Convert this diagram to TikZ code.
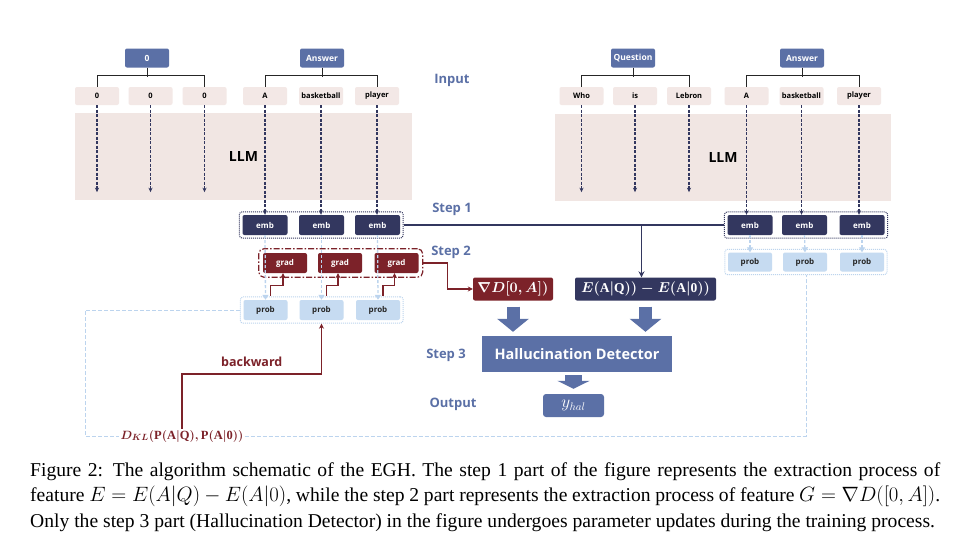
\documentclass[tikz,border=0pt]{standalone}
\usepackage{amsmath}
\usepackage{fontspec}
\setmainfont{Liberation Serif}
\newfontfamily\diagsans{Open Sans}
\usetikzlibrary{arrows.meta, positioning, fit}

\definecolor{hdrblue}{HTML}{5B70A6}
\definecolor{navy}{HTML}{33375F}
\definecolor{wine}{HTML}{7C2229}
\definecolor{tokpink}{HTML}{F3E8E6}
\definecolor{bandpink}{HTML}{F1E6E3}
\definecolor{probblue}{HTML}{C6DBF1}
\definecolor{lineblue}{HTML}{BCD4EE}

\begin{document}
\begin{tikzpicture}[x=1pt, y=-1pt, >=Stealth,
  hdr/.style={fill=hdrblue, text=white, rounded corners=2pt, minimum width=44, minimum height=19, inner sep=1, font=\diagsans\bfseries\fontsize{8.5}{10}\selectfont},
  tok/.style={fill=tokpink, rounded corners=2pt, minimum width=44, minimum height=18, inner sep=1, font=\diagsans\bfseries\fontsize{7.5}{8}\selectfont},
  band/.style={fill=bandpink, minimum height=87, inner sep=0, font=\diagsans\bfseries\fontsize{14}{16}\selectfont},
  emb/.style={fill=navy, text=white, rounded corners=2pt, minimum width=45, minimum height=20, inner sep=1, font=\diagsans\bfseries\fontsize{8}{9}\selectfont},
  gradbox/.style={emb, fill=wine, minimum width=44},
  probbox/.style={emb, fill=probblue, text=black!85, minimum width=44},
  steplbl/.style={text=hdrblue, font=\diagsans\bfseries\fontsize{13}{15}\selectfont},
  bracket/.style={draw=black!85, line width=0.9},
  feed/.style={draw=navy, line width=1.3, dash pattern=on 3pt off 1.5pt, -{Stealth[length=4.5pt,width=4pt]}},
  probline/.style={draw=lineblue, line width=1.3, dash pattern=on 3pt off 2pt, -{Triangle[length=5pt,width=6pt]}},
  mathbox/.style={text=white, rounded corners=2pt, minimum height=23, inner sep=3, font=\boldmath\fontsize{13.5}{15}\selectfont},
  bigarrow/.style={draw=hdrblue, line width=13, -{Triangle[length=13pt,width=31pt]}},
  loopline/.style={draw=lineblue, line width=1, dash pattern=on 4pt off 2pt},
  redline/.style={draw=wine, line width=1.5, -{Stealth[length=5pt,width=5pt]}}]

\path[fill=white, use as bounding box] (0,0) rectangle (968,547);

% input headers and tokens
\node[hdr] (h0) at (147,58) {0};
\node[hdr] (ha1) at (322,58) {Answer};
\node[hdr] (hq) at (633,58) {Question};
\node[hdr] (ha2) at (802,58) {Answer};

\node[tok] (t1) at (97,96) {0};
\node[tok] (t2) at (150.5,96) {0};
\node[tok] (t3) at (204.5,96) {0};
\node[tok] (t4) at (265,96) {A};
\node[tok] (t5) at (321,96) {basketball};
\node[tok] (t6) at (377,96) {player};
\node[tok] (t7) at (581.5,96) {Who};
\node[tok] (t8) at (635,96) {is};
\node[tok] (t9) at (689,96) {Lebron};
\node[tok] (t10) at (746.5,96) {A};
\node[tok] (t11) at (801.5,96) {basketball};
\node[tok] (t12) at (859,96) {player};

\draw[bracket] (t1.north) -- ++(0,-11) -| (t3.north);
\draw[bracket] (h0.south) -- ++(0,9);
\draw[bracket] (t4.north) -- ++(0,-11) -| (t6.north);
\draw[bracket] (ha1.south) -- ++(0,9);
\draw[bracket] (t7.north) -- ++(0,-11) -| (t9.north);
\draw[bracket] (hq.south) -- ++(0,9);
\draw[bracket] (t10.north) -- ++(0,-11) -| (t12.north);
\draw[bracket] (ha2.south) -- ++(0,9);

% the two LLM bands
\node[band, minimum width=337] (llml) at (243.5,156.5) {LLM};
\node[band, minimum width=336] (llmr) at (723,157.5) {LLM};

% embeddings, gradients, probabilities
\node[emb] (e1) at (265,225) {emb};
\node[emb] (e2) at (321.5,225) {emb};
\node[emb] (e3) at (377.5,225) {emb};
\node[emb] (e4) at (750,225) {emb};
\node[emb] (e5) at (804.5,225) {emb};
\node[emb] (e6) at (862,225) {emb};

\node[gradbox] (g1) at (285,263) {grad};
\node[gradbox] (g2) at (340,263) {grad};
\node[gradbox] (g3) at (396.5,263) {grad};

\node[probbox] (p1) at (265.5,310) {prob};
\node[probbox] (p2) at (321.5,310) {prob};
\node[probbox] (p3) at (378,310) {prob};
\node[probbox, minimum height=19] (p4) at (750,262) {prob};
\node[probbox, minimum height=19] (p5) at (805,262) {prob};
\node[probbox, minimum height=19] (p6) at (862,262) {prob};

\node[draw=navy, line width=1, densely dotted, rounded corners=3pt, inner sep=3, fit=(e1)(e3)] (embl) {};
\node[draw=navy, line width=1, densely dotted, rounded corners=3pt, inner sep=3, fit=(e4)(e6)] (embr) {};
\node[draw=wine, line width=1.2, dash pattern=on 6pt off 2pt on 1.5pt off 2pt, rounded corners=5pt, inner sep=4, fit=(g1)(g3)] (gradl) {};
\node[draw=lineblue, line width=1, densely dotted, rounded corners=3pt, inner sep=3, fit=(p1)(p3)] (probl) {};
\node[draw=lineblue, line width=1, densely dotted, rounded corners=3pt, inner sep=3, fit=(p4)(p6)] (probr) {};

% token flows through the LLM
\foreach \t in {t1,t2,t3,t7,t8,t9}
  \draw[feed] (\t.south) -- ++(0,87);
\draw[feed] (t4.south) -- (t4.south |- e1.north);
\draw[feed] (t5.south) -- (t5.south |- e2.north);
\draw[feed] (t6.south) -- (t6.south |- e3.north);
\draw[feed] (t10.south) -- (t10.south |- e4.north);
\draw[feed] (t11.south) -- (t11.south |- e5.north);
\draw[feed] (t12.south) -- (t12.south |- e6.north);

\draw[probline] (e1.south) -- (p1.north);
\draw[probline] (e2.south) -- (p2.north);
\draw[probline] (e3.south) -- (p3.north);
\draw[probline] (e4.south) -- (p4.north);
\draw[probline] (e5.south) -- (p5.north);
\draw[probline] (e6.south) -- (p6.north);

\draw[redline, line width=1.3] ([xshift=5, yshift=4]p1.north) -- ++(0,-10) -| ([xshift=-2]g1.south);
\draw[redline, line width=1.3] ([xshift=5, yshift=4]p2.north) -- ++(0,-10) -| ([xshift=-2]g2.south);
\draw[redline, line width=1.3] ([xshift=5, yshift=4]p3.north) -- ++(0,-10) -| ([xshift=-2]g3.south);

% features
\node[mathbox, fill=wine, minimum width=80] (nabla) at (513,289) {$\nabla D[0,A])$};
\node[mathbox, fill=navy, minimum width=141] (ediff) at (645.5,289) {$E(\mathrm{A}|\mathrm{Q}))-E(\mathrm{A}|\mathrm{0}))$};

\draw[navy, line width=1.6] (embl.east) -- (embr.west);
\draw[navy, line width=1.2, -{Stealth[length=6pt,width=6pt]}] ([xshift=-4]ediff.north |- embl.east) -- ([xshift=-4]ediff.north);
\draw[redline] (gradl.east) -- ++(24,0) |- (nabla.west);

% detector and output
\node[fill=hdrblue, text=white, minimum width=190, minimum height=36, inner sep=0, font=\diagsans\bfseries\fontsize{14.5}{16}\selectfont] (det) at (577,354) {Hallucination Detector};
\node[fill=hdrblue, text=white, rounded corners=3pt, minimum width=61, minimum height=23, inner sep=0, font=\fontsize{16}{17}\selectfont] (yhal) at (573.5,405.5) {$y_{hal}$};

\draw[bigarrow] ([yshift=-6]nabla.south) -- ([yshift=4]det.north -| nabla.south);
\draw[bigarrow] ([yshift=-6]ediff.south) -- ([yshift=4]det.north -| ediff.south);
\draw[bigarrow, line width=17, -{Triangle[length=8pt,width=32pt]}] ([yshift=-3]det.south -| yhal.north) -- ([yshift=5]yhal.north);

% step labels
\node[steplbl] (lin) at (452,80) {Input};
\node[steplbl] (ls1) at (452,209) {Step 1};
\node[steplbl] (ls2) at (451,252) {Step 2};
\node[steplbl] (ls3) at (446,355) {Step 3};
\node[steplbl] (lout) at (453,404) {Output};

% KL loss and backward pass
\node[text=wine, inner sep=1, font=\boldmath\fontsize{12.5}{14}\selectfont] (dkl) at (182,436) {$D_{KL}(\mathrm{P}(\mathrm{A}|\mathrm{Q}),\mathrm{P}(\mathrm{A}|\mathrm{0}))$};
\coordinate (lc) at (85,436);
\coordinate (bkturn) at (321.5,374);
\draw[loopline] (probl.west) -| (lc) -- (dkl.west);
\draw[loopline] (dkl.east) -| (probr.south);
\draw[redline, line width=1.8] (dkl.north) |- node[pos=0.75, above=3pt, text=wine, font=\diagsans\bfseries\fontsize{12.5}{14}\selectfont] {backward} (bkturn) -- (probl.south -| p2.south);

% caption
\node[anchor=north west, inner sep=0, text width=910, align=justify, font=\fontsize{19.6}{25.5}\selectfont] (cap) at (30,462)
  {Figure 2: The algorithm schematic of the EGH. The step 1 part of the figure represents the extraction process of\linebreak
  feature $E=E(A|Q)-E(A|0)$, while the step 2 part represents the extraction process of feature $G=\nabla D([0,A])$.\linebreak
  Only the step 3 part (Hallucination Detector) in the figure undergoes parameter updates during the training process.};
\end{tikzpicture}
\end{document}
